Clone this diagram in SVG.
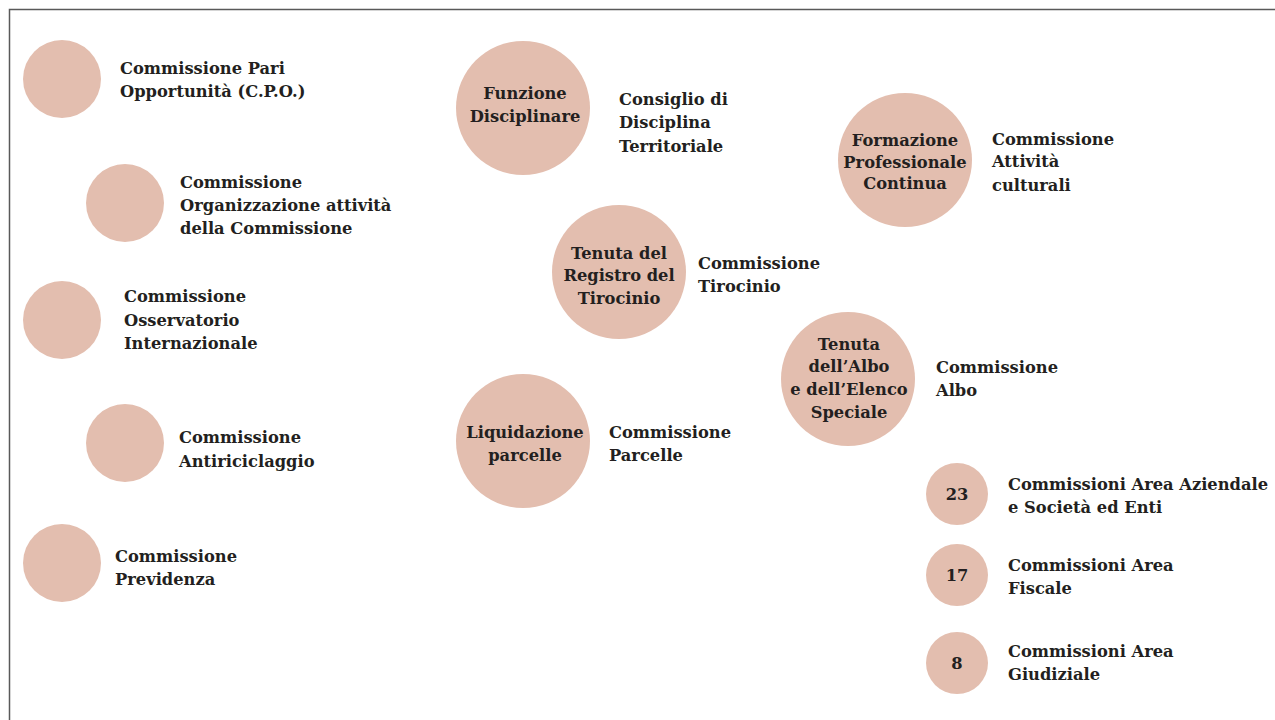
<svg xmlns="http://www.w3.org/2000/svg" width="1275" height="720" viewBox="0 0 1275 720">
<style>
.c{fill:#E3BEAF}
text{font-family:"DejaVu Serif","Liberation Serif",serif;font-weight:bold;font-size:16.3px;fill:#231F20}
.m{text-anchor:middle}
</style>
<rect width="1275" height="720" fill="#fff"/>
<path d="M9.5,720 V9.5 H1275" fill="none" stroke="#595959" stroke-width="1.5"/>
<g id="n1"><circle class="c" cx="62" cy="79" r="39"/><text x="120" y="74">Commissione Pari</text><text x="120" y="97">Opportunità (C.P.O.)</text></g>
<g id="n2"><circle class="c" cx="125" cy="203" r="39"/><text x="180" y="188">Commissione</text><text x="180" y="211">Organizzazione attività</text><text x="180" y="234">della Commissione</text></g>
<g id="n3"><circle class="c" cx="62" cy="320" r="39"/><text x="124" y="302">Commissione</text><text x="124" y="326">Osservatorio</text><text x="124" y="349">Internazionale</text></g>
<g id="n4"><circle class="c" cx="125" cy="443" r="39"/><text x="179" y="443">Commissione</text><text x="179" y="467">Antiriciclaggio</text></g>
<g id="n5"><circle class="c" cx="62" cy="563" r="39"/><text x="115" y="562">Commissione</text><text x="115" y="585">Previdenza</text></g>
<g id="n6"><circle class="c" cx="523" cy="108" r="67"/><text class="m" x="525" y="99">Funzione</text><text class="m" x="525" y="122">Disciplinare</text><text x="619" y="105">Consiglio di</text><text x="619" y="128">Disciplina</text><text x="619" y="152">Territoriale</text></g>
<g id="n7"><circle class="c" cx="619" cy="272" r="67"/><text class="m" x="619" y="259">Tenuta del</text><text class="m" x="619" y="281">Registro del</text><text class="m" x="619" y="304">Tirocinio</text><text x="698" y="269">Commissione</text><text x="698" y="292">Tirocinio</text></g>
<g id="n8"><circle class="c" cx="523" cy="441" r="67"/><text class="m" x="525" y="438">Liquidazione</text><text class="m" x="525" y="461">parcelle</text><text x="609" y="438">Commissione</text><text x="609" y="461">Parcelle</text></g>
<g id="n9"><circle class="c" cx="905" cy="160" r="67"/><text class="m" x="905" y="146">Formazione</text><text class="m" x="905" y="168">Professionale</text><text class="m" x="905" y="189">Continua</text><text x="992" y="145">Commissione</text><text x="992" y="167">Attività</text><text x="992" y="191">culturali</text></g>
<g id="n10"><circle class="c" cx="848" cy="379" r="67"/><text class="m" x="849" y="350">Tenuta</text><text class="m" x="849" y="372">dell’Albo</text><text class="m" x="849" y="395">e dell’Elenco</text><text class="m" x="849" y="418">Speciale</text><text x="936" y="373">Commissione</text><text x="936" y="396">Albo</text></g>
<g id="n11"><circle class="c" cx="957" cy="494" r="31"/><text class="m" x="957" y="500">23</text><text x="1008" y="490">Commissioni Area Aziendale</text><text x="1008" y="513">e Società ed Enti</text></g>
<g id="n12"><circle class="c" cx="957" cy="575" r="31"/><text class="m" x="957" y="581">17</text><text x="1008" y="571">Commissioni Area</text><text x="1008" y="594">Fiscale</text></g>
<g id="n13"><circle class="c" cx="957" cy="663" r="31"/><text class="m" x="957" y="669">8</text><text x="1008" y="657">Commissioni Area</text><text x="1008" y="680">Giudiziale</text></g>
<g id="connectors"/>
</svg>
